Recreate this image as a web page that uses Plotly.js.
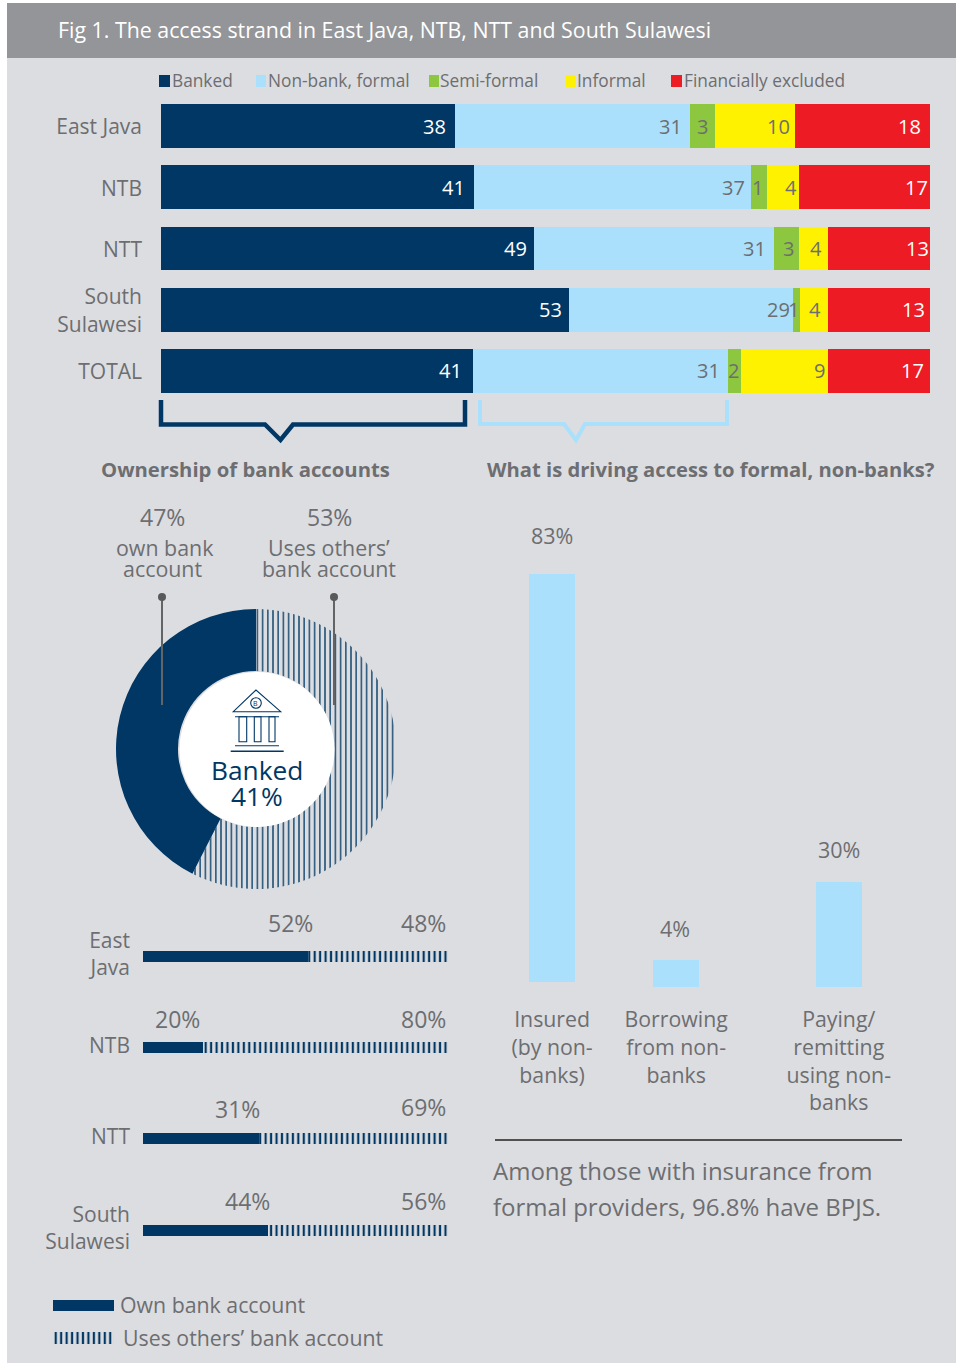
<!DOCTYPE html>
<html>
<head>
<meta charset="utf-8">
<script src="https://cdn.plot.ly/plotly-3.0.1.min.js"></script>
<style>html,body{margin:0;padding:0;background:#fff;overflow:hidden}#chart{width:956px;height:1363px}</style>
</head>
<body>
<div id="chart"></div>
<script>
// ---- Access strand (segment lengths as drawn; printed labels kept separately)
var regions = ['East Java', 'NTB', 'NTT', 'South Sulawesi', 'TOTAL'];
var regionTicks = ['East Java', 'NTB', 'NTT', 'South<br>Sulawesi', 'TOTAL'];
var strandNames = ['Banked', 'Non-bank, formal', 'Semi-formal', 'Informal', 'Financially excluded'];
var banked = [38.2, 40.7, 48.5, 53.1, 40.6];
var nonBank = [30.6, 36.0, 31.2, 29.1, 33.1];
var semiFormal = [3.3, 2.1, 3.3, 0.9, 1.7];
var informal = [10.4, 4.2, 3.8, 3.6, 11.4];
var excluded = [17.5, 17.0, 13.2, 13.3, 13.2];
var bankedLabels = ['38', '41', '49', '53', '41'];
var nonBankLabels = ['31', '37', '31', '29', '31'];
var semiFormalLabels = ['3', '1', '3', '1', '2'];
var informalLabels = ['10', '4', '4', '4', '9'];
var excludedLabels = ['18', '17', '13', '13', '17'];

// ---- Ownership donut
var ownershipNames = ['Uses others\u2019 bank account', 'Own bank account'];
var ownershipDrawn = [57.5, 42.5];

// ---- Ownership by region
var ownRegions = ['East Java', 'NTB', 'NTT', 'South Sulawesi'];
var ownRegionTicks = ['East<br>Java', 'NTB', 'NTT', 'South<br>Sulawesi'];
var ownShare = [54.1, 19.6, 38.1, 40.9];
var othersShare = [45.9, 80.4, 61.9, 59.1];
var ownLabels = ['52%', '20%', '31%', '44%'];
var othersLabels = ['48%', '80%', '69%', '56%'];

// ---- Drivers of access to formal non-banks
var driverTicks = ['Insured<br>(by non-<br>banks)', 'Borrowing<br>from non-<br>banks', 'Paying/<br>remitting<br>using non-<br>banks'];
var driverHeights = [83, 5.5, 21.4];
var driverBase = [1.08, 0, 0];
var driverLabels = ['83%', '4%', '30%'];

// ---- Styling
var NAVY = '#003764', SKY = '#aae0fb', GREEN = '#8dc63f', YELLOW = '#fff200', RED = '#ed1c24';
var GREY = '#6d6e71', BG = '#dcdde0', HEAD = '#939598', FONT = '"Open Sans", sans-serif';
var W = 956, H = 1363;
function fx(p) { return p / W; }
function fy(p) { return 1 - p / H; }
function stripes(size, solidity) {
  return { shape: '|', fgcolor: NAVY, bgcolor: 'rgba(0,0,0,0)', size: size, solidity: solidity };
}

var strandValues = [banked, nonBank, semiFormal, informal, excluded];
var strandColors = [NAVY, SKY, GREEN, YELLOW, RED];
var strandLabels = [bankedLabels, nonBankLabels, semiFormalLabels, informalLabels, excludedLabels];
var labelColors = ['#ffffff', GREY, GREY, GREY, '#ffffff'];
// right padding of each printed number inside its segment, px
var labelPads = [
  [7.5, 7.5, 6.5, 4, 8.5],
  [8, 4.5, 2.5, 1.5, 1.5],
  [5.5, 6.5, 4, 5.5, 0.5],
  [6.5, 2, 0.5, 5.5, 4],
  [10, 7, 0.5, 2, 5.5]
];

var traces = [];
strandNames.forEach(function (name, i) {
  traces.push({
    type: 'bar', orientation: 'h', name: name, x: strandValues[i], y: regions,
    xaxis: 'x', yaxis: 'y', width: 0.718, showlegend: false, hoverinfo: 'x+y',
    marker: { color: strandColors[i], line: { width: 0 } }
  });
});

traces.push({
  type: 'pie', labels: ownershipNames, values: ownershipDrawn, sort: false,
  direction: 'clockwise', rotation: 0, hole: 78 / 140, textinfo: 'none', showlegend: false,
  domain: { x: [fx(116), fx(396)], y: [fy(889), fy(609)] },
  marker: {
    colors: ['rgba(0,0,0,0)', NAVY], line: { width: 0 },
    pattern: { shape: ['|', ''], fgcolor: NAVY, bgcolor: 'rgba(0,0,0,0)', size: 5.2, solidity: 0.25 }
  }
});

traces.push({
  type: 'bar', orientation: 'h', name: 'Own bank account', x: ownShare, y: ownRegions,
  xaxis: 'x2', yaxis: 'y2', width: 0.12, showlegend: false,
  marker: { color: NAVY, line: { width: 0 } }
});
traces.push({
  type: 'bar', orientation: 'h', name: 'Uses others\u2019 bank account', x: othersShare, y: ownRegions,
  xaxis: 'x2', yaxis: 'y2', width: 0.12, showlegend: false,
  marker: { color: 'rgba(0,0,0,0)', line: { width: 0 }, pattern: stripes(5.45, 0.4) }
});

traces.push({
  type: 'bar', x: [0, 1, 2.31], y: driverHeights, base: driverBase, width: 0.371,
  xaxis: 'x3', yaxis: 'y3', showlegend: false, marker: { color: SKY, line: { width: 0 } }
});

traces.push({
  type: 'bar', orientation: 'h', x: [100], y: ['Own bank account'], xaxis: 'x4', yaxis: 'y4',
  width: 0.33, showlegend: false, hoverinfo: 'y', marker: { color: NAVY, line: { width: 0 } }
});
traces.push({
  type: 'bar', orientation: 'h', x: [100], y: ['Uses others\u2019 bank account'], xaxis: 'x4', yaxis: 'y4',
  width: 0.36, showlegend: false, hoverinfo: 'y',
  marker: { color: 'rgba(0,0,0,0)', line: { width: 0 }, pattern: stripes(5.45, 0.4) }
});

var ann = [];
function note(text, x, y, size, color, anchor, bold) {
  ann.push({
    text: bold ? '<b>' + text + '</b>' : text, xref: 'paper', yref: 'paper', x: fx(x), y: fy(y),
    xanchor: anchor || 'center', yanchor: 'middle', showarrow: false, borderpad: 0,
    font: { family: FONT, size: size, color: color || GREY }
  });
}

// printed numbers on the stacked bars
strandValues.forEach(function (vals, s) {
  vals.forEach(function (v, r) {
    var end = 0;
    for (var k = 0; k <= s; k++) { end += strandValues[k][r]; }
    ann.push({
      text: strandLabels[s][r], xref: 'x', yref: 'y', x: Math.min(end, 100), y: regions[r],
      xanchor: 'right', yanchor: 'middle', xshift: -labelPads[r][s], yshift: 0, showarrow: false, borderpad: 0,
      font: { family: FONT, size: 20, color: labelColors[s] }
    });
  });
});

// regional ownership labels
var ownLift = [33, 28.5, 30, 29];
var othersLift = [33, 28.5, 32, 29];
var ownShift = [6, -2, 2, 3];
ownRegions.forEach(function (r, i) {
  ann.push({
    text: ownLabels[i], xref: 'x2', yref: 'y2', x: ownShare[i], y: r, xanchor: 'right', yanchor: 'middle',
    xshift: ownShift[i], yshift: ownLift[i], showarrow: false, borderpad: 0, font: { family: FONT, size: 23, color: GREY }
  });
  ann.push({
    text: othersLabels[i], xref: 'x2', yref: 'y2', x: 100, y: r, xanchor: 'right', yanchor: 'middle',
    xshift: -1, yshift: othersLift[i], showarrow: false, borderpad: 0, font: { family: FONT, size: 23, color: GREY }
  });
});

// driver bar labels
var driverLift = [39, 31, 32];
var driverShift = [-0.5, -1.5, 0];
driverLabels.forEach(function (t, i) {
  ann.push({
    text: t, xref: 'x3', yref: 'y3', x: [0, 1, 2.31][i], y: driverHeights[i] + driverBase[i],
    xanchor: 'center', yanchor: 'middle', xshift: driverShift[i], yshift: driverLift[i], showarrow: false, borderpad: 0,
    font: { family: FONT, size: 21.5, color: GREY }
  });
});

note('Fig 1. The access strand in East Java, NTB, NTT and South Sulawesi', 57, 30, 21.35, '#ffffff', 'left');
var legendTextX = [170.5, 266.5, 439, 576, 683];
strandNames.forEach(function (n, i) { note(n, legendTextX[i], 80.5, 17.3, GREY, 'left'); });

note('Ownership of bank accounts', 100, 469, 20.3, GREY, 'left', true);
note('What is driving access to formal, non-banks?', 486, 469, 20.2, GREY, 'left', true);

note('47%', 162, 517, 23);
note('own bank', 165, 547, 21.4);
note('account', 162, 569, 21.4);
note('53%', 329, 517, 23);
note('Uses others\u2019', 329, 547, 21.4);
note('bank account', 329, 569, 21.4);
note('Banked', 257, 770, 26.3, NAVY);
note('41%', 257, 796, 26.3, NAVY);
note('B', 256, 703, 7, NAVY);

note('Own bank account', 119, 1304, 21.3, GREY, 'left');
note('Uses others\u2019 bank account', 122, 1337, 21.3, GREY, 'left');

note('Among those with insurance from', 492, 1170, 24, GREY, 'left');
note('formal providers, 96.8% have BPJS.', 492, 1206, 24, GREY, 'left');

// ---- Shapes
function rect(x0, y0, x1, y1, color, layer) {
  return {
    type: 'rect', xref: 'paper', yref: 'paper', x0: fx(x0), x1: fx(x1), y0: fy(y1), y1: fy(y0),
    fillcolor: color, line: { width: 0 }, layer: layer || 'below'
  };
}
function path(pts, color, width, closed, layer) {
  var d = pts.map(function (p, i) { return (i ? 'L' : 'M') + fx(p[0]) + ',' + fy(p[1]); }).join(' ') + (closed ? ' Z' : '');
  return {
    type: 'path', xref: 'paper', yref: 'paper', path: d, layer: layer || 'above',
    line: { color: color, width: width }, fillcolor: 'rgba(0,0,0,0)'
  };
}
function circle(cx, cy, r, fill, lineColor, lineWidth) {
  return {
    type: 'circle', xref: 'paper', yref: 'paper', x0: fx(cx - r), x1: fx(cx + r), y0: fy(cy + r), y1: fy(cy - r),
    fillcolor: fill, line: { color: lineColor || fill, width: lineWidth || 0 }, layer: 'above'
  };
}

var shapes = [
  rect(7, 3, 956, 1363, BG),
  rect(7, 3, 956, 58, HEAD)
];
var swatchX = [[159, 170], [256, 266], [429, 439], [566, 576], [671, 682]];
swatchX.forEach(function (s, i) { shapes.push(rect(s[0], 75, s[1], 87, strandColors[i])); });

shapes.push(path([[161, 400], [161, 424.5], [265, 424.5], [280.5, 440], [293, 424.5], [465, 424.5], [465, 400]], NAVY, 4.5));
shapes.push(path([[480, 400], [480, 424], [564, 424], [576, 440], [585, 424], [727, 424], [727, 400]], SKY, 4));

// donut centre and callouts
shapes.push(path([[162, 597], [162, 705]], '#636466', 2));
shapes.push(path([[334, 597], [334, 705]], '#636466', 2));
shapes.push(circle(162, 597, 4, '#58595b'));
shapes.push(circle(334, 597, 4, '#58595b'));
shapes.push(circle(257, 749.5, 77.5, '#ffffff'));

// bank icon
var iconW = 1.1;
shapes.push(path([[256, 690], [233.3, 711.7], [280.7, 711.7]], NAVY, iconW, true));
shapes.push(circle(256, 703, 5.3, 'rgba(0,0,0,0)', NAVY, iconW));
shapes.push(path([[235, 716.7], [279, 716.7]], NAVY, iconW));
[[239, 246.7], [254.3, 261], [269, 275]].forEach(function (c) {
  shapes.push(path([[c[0], 716.7], [c[1], 716.7], [c[1], 741.7], [c[0], 741.7]], NAVY, iconW, true));
});
shapes.push(path([[235, 745.7], [279, 745.7]], NAVY, iconW));
shapes.push(path([[230.7, 751.3], [283.7, 751.3]], NAVY, 1.4));

// rule above the BPJS note
shapes.push(path([[495, 1140], [902, 1140]], '#231f20', 1.4));

function hiddenX(domain, range) {
  return { domain: domain, range: range, fixedrange: true, showgrid: false, zeroline: false, showticklabels: false, ticks: '', showline: false };
}
function catY(domain, cats, ticks, size, standoff, lo) {
  return {
    domain: domain, type: 'category', categoryorder: 'array', categoryarray: cats, range: [lo, -0.5],
    tickmode: 'array', tickvals: cats, ticktext: ticks, fixedrange: true, showgrid: false, zeroline: false,
    ticks: '', showline: false, ticklabelstandoff: standoff, tickfont: { family: FONT, size: size, color: GREY }
  };
}

var layout = {
  width: W, height: H, autosize: false,
  margin: { l: 0, r: 0, t: 0, b: 0, pad: 0 },
  paper_bgcolor: '#ffffff', plot_bgcolor: 'rgba(0,0,0,0)',
  barmode: 'stack', bargap: 0, showlegend: false,
  font: { family: FONT, color: GREY },
  xaxis: hiddenX([fx(161), fx(930)], [0, 100]),
  yaxis: Object.assign(catY([fy(401.6), fy(95.4)], regions, regionTicks, 21, 18, 4.5), { ticklabelshift: -1 }),
  xaxis2: Object.assign(hiddenX([fx(143), fx(448)], [0, 100]), { anchor: 'y2' }),
  yaxis2: Object.assign(catY([fy(1276), fy(910.4)], ownRegions, ownRegionTicks, 21, 12, 3.5), { anchor: 'x2', ticklabelshift: 2 }),
  xaxis3: {
    domain: [fx(495), fx(902)], range: [-0.46, 2.82], anchor: 'y3', tickmode: 'array', tickvals: [0, 1, 2.31], ticktext: driverTicks,
    fixedrange: true, showgrid: false, zeroline: false, showline: false, ticks: '', ticklabelstandoff: 18,
    tickangle: 0, tickfont: { family: FONT, size: 21.3, color: GREY }
  },
  yaxis3: {
    domain: [fy(987), fy(574)], range: [0, 84.08], anchor: 'x3', fixedrange: true, showgrid: false, zeroline: false,
    showticklabels: false, ticks: '', showline: false
  },
  xaxis4: Object.assign(hiddenX([fx(53), fx(114)], [0, 100]), { anchor: 'y4' }),
  yaxis4: {
    domain: [fy(1354), fy(1289)], anchor: 'x4', type: 'category', categoryorder: 'array',
    categoryarray: ['Own bank account', 'Uses others\u2019 bank account'], range: [1.5, -0.5], fixedrange: true,
    showgrid: false, zeroline: false, showticklabels: false, ticks: '', showline: false
  },
  annotations: ann,
  shapes: shapes
};

Plotly.newPlot('chart', traces, layout, { displayModeBar: false, staticPlot: true, responsive: false });
</script>
</body>
</html>
